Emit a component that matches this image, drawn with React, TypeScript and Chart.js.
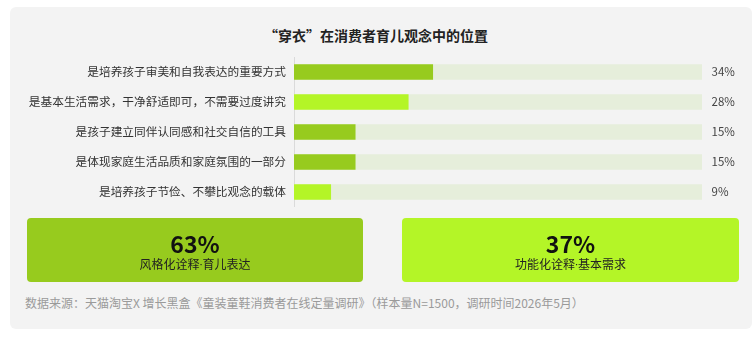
import React, { useEffect, useRef } from "react";
import { Chart, registerables } from "chart.js";

Chart.register(...registerables);

const categories = [
  "是培养孩子审美和自我表达的重要方式",
  "是基本生活需求，干净舒适即可，不需要过度讲究",
  "是孩子建立同伴认同感和社交自信的工具",
  "是体现家庭生活品质和家庭氛围的一部分",
  "是培养孩子节俭、不攀比观念的载体",
];
const values = [34, 28, 15, 15, 9];
const valueLabels = ["34%", "28%", "15%", "15%", "9%"];
const trackMax = [100, 100, 100, 100, 100];
const barGroups = ["style", "function", "style", "style", "function"];

const summaryValues = ["63%", "37%"];
const summaryLabelsA = ["风格化诠释", "功能化诠释"];
const summaryLabelsB = ["育儿表达", "基本需求"];

const title = "“穿衣”在消费者育儿观念中的位置";
const footnote =
  "数据来源：天猫淘宝X 增长黑盒《童装童鞋消费者在线定量调研》（样本量N=1500，调研时间2026年5月）";

const DARK = "#97CB1E";
const LIME = "#B4F527";
const TRACK = "#E6EEDB";
const FONT = "'Noto Sans CJK SC', 'Noto Sans', sans-serif";

export default function App() {
  const ref = useRef<HTMLCanvasElement | null>(null);

  useEffect(() => {
    if (!ref.current) return;
    const valuePlugin = {
      id: "valueLabels",
      afterDatasetsDraw(chart: any) {
        const ctx = chart.ctx;
        const meta = chart.getDatasetMeta(0);
        ctx.save();
        ctx.font = `11.5px ${FONT}`;
        ctx.fillStyle = "#444";
        ctx.textBaseline = "middle";
        ctx.textAlign = "left";
        meta.data.forEach((el: any, i: number) => {
          ctx.fillText(valueLabels[i], chart.chartArea.right + 9.5, el.y);
        });
        ctx.restore();
      },
    };
    const chart = new Chart(ref.current, {
      type: "bar",
      data: {
        labels: categories,
        datasets: [
          {
            data: values,
            backgroundColor: barGroups.map((g) => (g === "style" ? DARK : LIME)),
            barThickness: 15,
            grouped: false,
            order: 0,
            borderWidth: 0,
          },
          {
            data: trackMax,
            backgroundColor: TRACK,
            barThickness: 15,
            grouped: false,
            order: 1,
            borderWidth: 0,
          },
        ],
      },
      options: {
        indexAxis: "y",
        animation: false,
        responsive: true,
        maintainAspectRatio: false,
        layout: { padding: { top: 7, bottom: 3, right: 50, left: 0 } },
        plugins: {
          legend: { display: false },
          tooltip: { enabled: false },
          title: { display: false },
        },
        scales: {
          x: { min: 0, max: 100, display: false },
          y: {
            afterFit(scale: any) {
              scale.width = 284;
            },
            grid: { display: false, drawTicks: false },
            border: { display: true, color: "#dadada", width: 1 },
            ticks: {
              padding: 8,
              color: "#333",
              font: { size: 11.7, family: FONT },
            },
          },
        },
      },
      plugins: [valuePlugin],
    } as any);
    return () => chart.destroy();
  }, []);

  const cardStyle = (left: number, width: number, bg: string): React.CSSProperties => ({
    position: "absolute",
    left,
    top: 218,
    width,
    height: 64,
    background: bg,
    borderRadius: 4,
  });

  return (
    <div style={{ position: "absolute", left: 0, top: 0, width: 754, height: 337, background: "#fff", fontFamily: FONT }}>
      <div style={{ position: "absolute", left: 10, top: 7, width: 742, height: 322, background: "#F3F3F3", borderRadius: 6 }} />
      <div style={{ position: "absolute", left: 10, top: 25, width: 732, textAlign: "center", fontSize: 14, lineHeight: "20px", fontWeight: 700, color: "#222" }}>
        {title}
      </div>
      <div style={{ position: "absolute", left: 10, top: 42, width: 742, height: 180 }}>
        <canvas ref={ref} />
      </div>
      {[0, 1].map((i) => (
        <div key={i} style={cardStyle(i === 0 ? 27 : 402, i === 0 ? 336 : 337, i === 0 ? DARK : LIME)}>
          <div style={{ position: "absolute", left: 0, right: 0, top: 12, textAlign: "center", fontSize: 23, lineHeight: "27px", fontWeight: 700, color: "#111" }}>
            {summaryValues[i]}
          </div>
          <div style={{ position: "absolute", left: 0, right: 0, top: 37, textAlign: "center", fontSize: 12, lineHeight: "18px", color: "#222" }}>
            {summaryLabelsA[i]}
            <span style={{ fontFamily: "Roboto, sans-serif" }}>·</span>
            {summaryLabelsB[i]}
          </div>
        </div>
      ))}
      <div style={{ position: "absolute", left: 25, top: 295, fontSize: 12, lineHeight: "16px", color: "#9a9a9a", whiteSpace: "nowrap" }}>
        {footnote}
      </div>
    </div>
  );
}
